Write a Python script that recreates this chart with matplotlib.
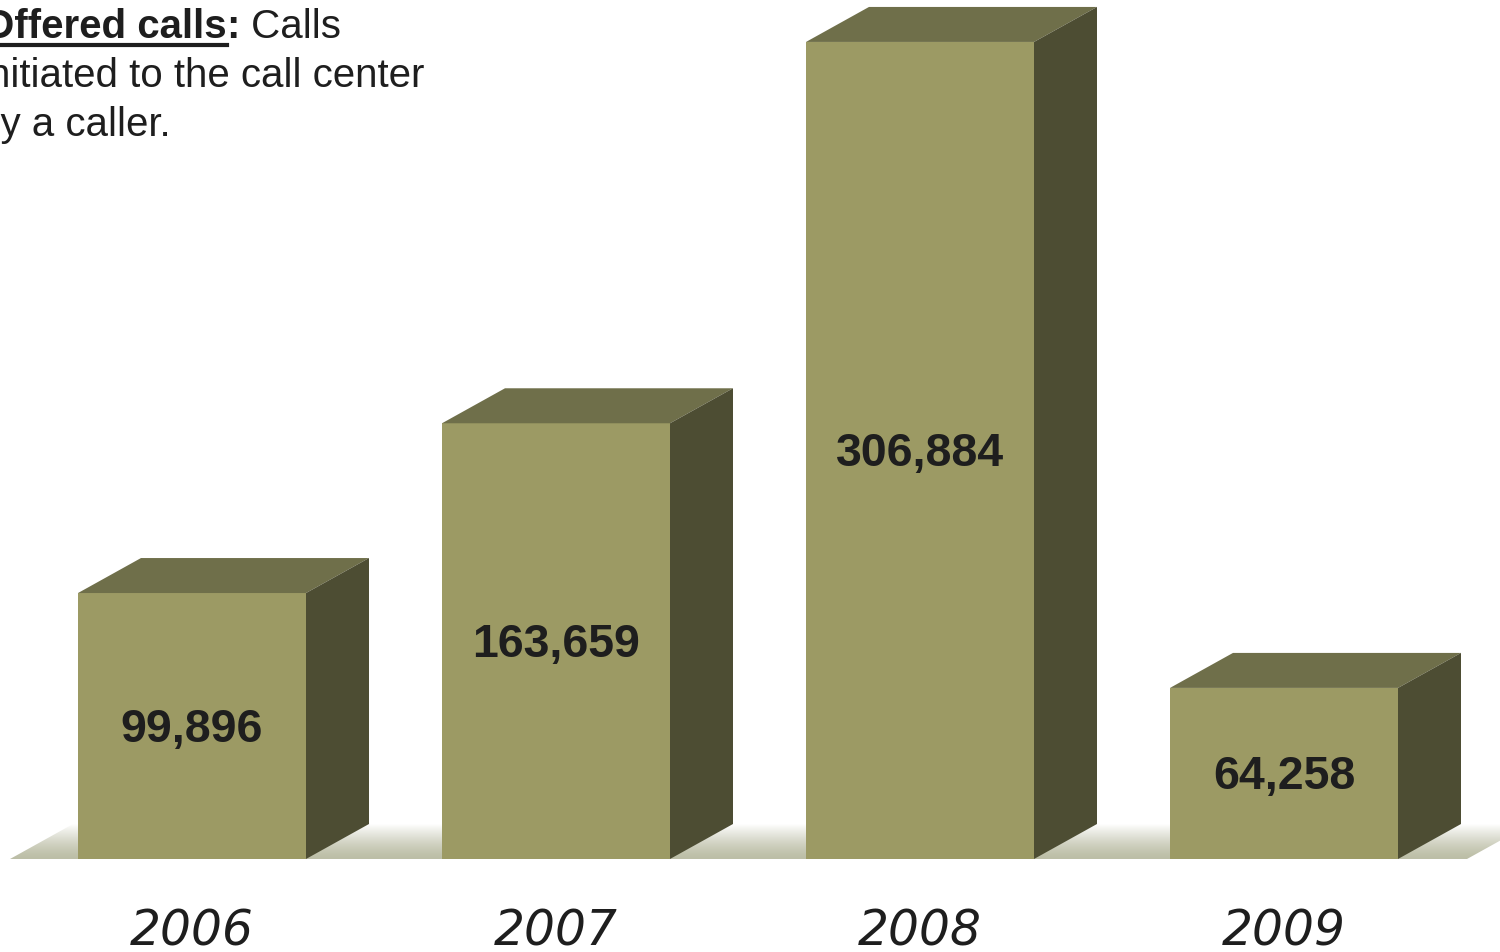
import matplotlib

matplotlib.use("Agg")

import matplotlib.pyplot as plt
import numpy as np
from matplotlib.patches import Polygon

years = ["2006", "2007", "2008", "2009"]
calls = [99896, 163659, 306884, 64258]
value_labels = ["99,896", "163,659", "306,884", "64,258"]

FRONT = "#9c9a64"
TOP = "#6f6f4a"
SIDE = "#4d4d33"
TEXT = "#1e1e1e"

W, H = 1500, 952
fig = plt.figure(figsize=(W / 100, H / 100), dpi=100)
ax = fig.add_axes([0, 0, 1, 1])
ax.set_axis_off()

# map data to the picture: category spacing 364 px, 375.6 calls per px
px_x = 364.0
px_y = 375.6
x0_px, base_px = 192.0, 93.0
ax.set_xlim(-x0_px / px_x, (W - x0_px) / px_x)
ax.set_ylim(-base_px * px_y, (H - base_px) * px_y)

bar_w = 228 / px_x
dx = 63 / px_x
dy = 35 * px_y

# floor with a gradient fading to white toward the back
fl, fr = (10 - x0_px) / px_x, (1467 - x0_px) / px_x
floor = Polygon([(fl, 0), (fr, 0), (fr + dx, dy), (fl + dx, dy)],
                closed=True, facecolor="none", edgecolor="none")
ax.add_patch(floor)
grad = np.linspace(0, 1, 256) ** 1.4
c0 = np.array([0xbc, 0xbe, 0xa6]) / 255
c1 = np.array([1.0, 1.0, 1.0])
img = (c0[None, :] * (1 - grad[:, None]) + c1[None, :] * grad[:, None])[:, None, :]
im = ax.imshow(img, extent=(fl, fr + dx, 0, dy), origin="lower",
               aspect="auto", zorder=1)
im.set_clip_path(floor)

for i, (v, lab) in enumerate(zip(calls, value_labels)):
    l, r = i - bar_w / 2, i + bar_w / 2
    ax.add_patch(Polygon([(l, 0), (r, 0), (r, v), (l, v)], closed=True,
                         facecolor=FRONT, edgecolor="none", zorder=3))
    ax.add_patch(Polygon([(l, v), (r, v), (r + dx, v + dy), (l + dx, v + dy)],
                         closed=True, facecolor=TOP, edgecolor="none", zorder=3))
    ax.add_patch(Polygon([(r, 0), (r + dx, dy), (r + dx, v + dy), (r, v)],
                         closed=True, facecolor=SIDE, edgecolor="none", zorder=3))
    ax.text(i, v / 2 - 4 * px_y, lab, ha="center", va="center", fontsize=33.5,
            fontweight="bold", family="Liberation Sans", color=TEXT, zorder=4)

ax.set_xticks([])
for i, y in enumerate(years):
    ax.text(i, -(931 - 859) * px_y, y, ha="center", va="center", fontsize=35,
            style="italic", family="DejaVu Sans", color=TEXT)

# note in the top-left corner, partly cut by the figure edge
fig.canvas.draw()
renderer = fig.canvas.get_renderer()
fs = 29
x_start = -17
t1 = fig.text(x_start / W, 1 - 27 / H, "Offered calls", fontsize=fs,
              fontweight="bold", family="Liberation Sans", color=TEXT, va="center")
bb = t1.get_window_extent(renderer)
fig.add_artist(plt.Line2D([x_start / W, bb.x1 / W], [1 - 45 / H, 1 - 45 / H],
                          color=TEXT, linewidth=3, transform=fig.transFigure))
t2 = fig.text(bb.x1 / W, 1 - 27 / H, ":", fontsize=fs, fontweight="bold",
              family="Liberation Sans", color=TEXT, va="center")
bb2 = t2.get_window_extent(renderer)
fig.text(bb2.x1 / W, 1 - 27 / H, " Calls", fontsize=fs,
         family="Liberation Sans", color=TEXT, va="center")
fig.text(-21 / W, 1 - 76 / H, "initiated to the call center", fontsize=fs,
         family="Liberation Sans", color=TEXT, va="center")
fig.text(-22 / W, 1 - 125 / H, "by a caller.", fontsize=fs,
         family="Liberation Sans", color=TEXT, va="center")

fig.savefig("out.png", dpi=100, facecolor="white")
